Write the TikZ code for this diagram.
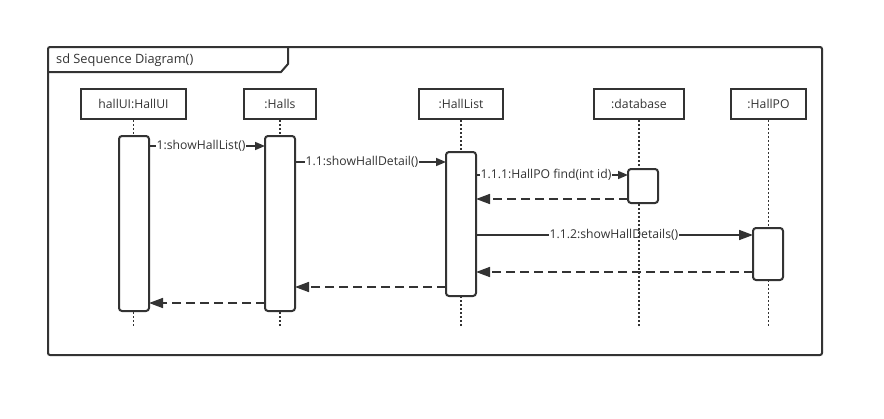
\documentclass[tikz,border=0pt]{standalone}
\usepackage{fontspec}
\setmainfont{Open Sans}
\usetikzlibrary{arrows.meta}
\definecolor{ink}{HTML}{333333}
\tikzset{
  x=1pt, y=-1pt,
  every node/.style={font=\fontsize{12.2}{14}\selectfont, text=ink, inner sep=1pt},
  head/.style={draw=ink, line width=2pt, minimum height=30pt, inner sep=0pt},
  act/.style={draw=ink, fill=white, line width=2pt, rounded corners=3pt},
  life/.style={draw=ink, line width=1.8pt, dash pattern=on 1.6pt off 2.4pt},
  wire/.style={draw=ink, line width=1.6pt},
  msg/.style={wire, -{Triangle[length=14pt,width=10pt]}},
  short/.style={wire, -{Triangle[length=10pt,width=8pt]}},
  ret/.style={msg, dash pattern=on 9pt off 5pt},
  lbl/.style={inner sep=0.5pt}
}
\begin{document}
\begin{tikzpicture}
\useasboundingbox (0,0) rectangle (884,418);
% frame and title tab
\draw[ink, line width=2pt, rounded corners=2pt] (48,47) rectangle (822,355);
\draw[ink, line width=2pt] (48,72) -- (281,72) -- (288,64) -- (288,47);
\node[anchor=west, font=\fontsize{12.8}{15}\selectfont] (title) at (55,60) {sd Sequence Diagram()};

% lifeline heads
\node[head, minimum width=105pt] (ui) at (133.5,104) {hallUI:HallUI};
\node[head, minimum width=72pt] (halls) at (280,104) {:Halls};
\node[head, minimum width=84pt] (list) at (461,104) {:HallList};
\node[head, minimum width=90pt] (db) at (639,104) {:database};
\node[head, minimum width=75pt] (po) at (768.5,104) {:HallPO};

% lifelines
\coordinate (uiE) at (133.5,326);
\coordinate (hallsE) at (280,326);
\coordinate (listE) at (461,326);
\coordinate (dbE) at (639,326);
\coordinate (poE) at (768.5,326);
\draw[life] (ui.south) -- (uiE);
\draw[life] (halls.south) -- (hallsE);
\draw[life] (list.south) -- (listE);
\draw[life] (db.south) -- (dbE);
\draw[life] (po.south) -- (poE);

% activation bars
\draw[act] (119,136) rectangle (149,311);
\draw[act] (265,136) rectangle (295,311);
\draw[act] (446,152) rectangle (476,296);
\draw[act] (628,169) rectangle (658,203);
\draw[act] (753,228) rectangle (783,280);
\coordinate (a1) at (149,146); \coordinate (b1) at (265,146);
\coordinate (a2) at (295,162); \coordinate (b2) at (446,162);
\coordinate (a3) at (476,175); \coordinate (b3) at (628,175);
\coordinate (a4) at (628,199); \coordinate (b4) at (476,199);
\coordinate (a5) at (476,235); \coordinate (b5) at (753,235);
\coordinate (a6) at (753,272); \coordinate (b6) at (476,272);
\coordinate (a7) at (446,287); \coordinate (b7) at (295,287);
\coordinate (a8) at (265,303); \coordinate (b8) at (149,303);

% calls: line up to the label, arrow from the label on
\node[lbl, anchor=west] (m1) at (156,146) {1:showHallList()};
\draw[wire] (a1) -- (m1.west);
\draw[short] (m1.east) -- (b1);
\node[lbl, anchor=west] (m2) at (305,162) {1.1:showHallDetail()};
\draw[wire] (a2) -- (m2.west);
\draw[short] (m2.east) -- (b2);
\node[lbl, anchor=west] (m3) at (480,175) {1.1.1:HallPO find(int id)};
\draw[wire] (a3) -- (m3.west);
\draw[short] (m3.east) -- (b3);
\node[lbl] (m5) at (614,235) {1.1.2:showHallDetails()};
\draw[wire] (a5) -- (m5.west);
\draw[msg] (m5.east) -- (b5);

% returns
\draw[ret] (a4) -- (b4);
\draw[ret] (a6) -- (b6);
\draw[ret] (a7) -- (b7);
\draw[ret] (a8) -- (b8);
\end{tikzpicture}
\end{document}
